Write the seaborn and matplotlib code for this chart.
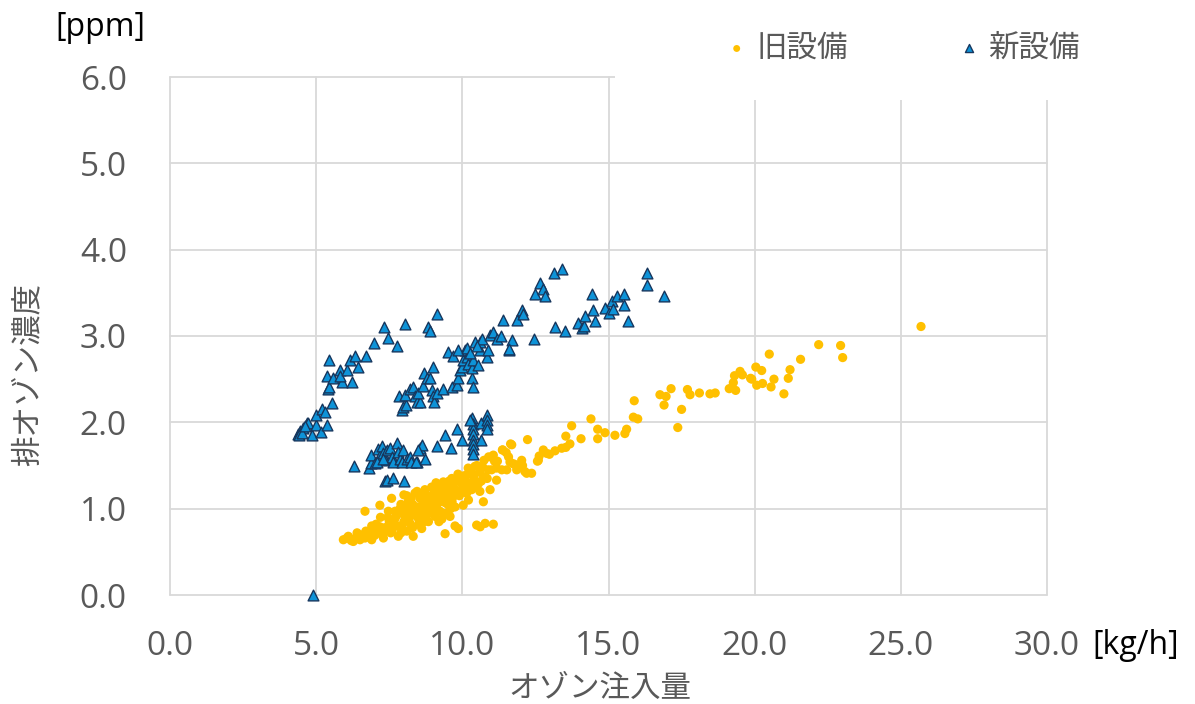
import matplotlib
matplotlib.use("Agg")
import matplotlib.pyplot as plt
from matplotlib.patches import Rectangle
import seaborn as sns
import pandas as pd

# ---------------- data ----------------
# 旧設備 (old equipment): (ozone injection kg/h, exhaust ozone ppm)
old_dense = [
    (5.93,0.64),(6.05,0.66),(6.10,0.68),(6.20,0.63),(6.27,0.62),(6.35,0.66),(6.44,0.68),(6.50,0.64),
    (6.61,0.70),(6.67,0.66),(6.78,0.71),(6.85,0.67),(6.96,0.73),(7.00,0.69),(7.10,0.75),(7.18,0.79),
    (7.25,0.70),(7.30,0.73),(7.40,0.77),(7.53,0.83),(7.60,0.75),(7.70,0.89),(7.81,0.68),(7.93,0.79),
    (8.04,0.91),(8.10,0.74),(8.21,0.83),(8.32,0.68),(8.49,0.89),(8.61,0.77),(8.84,0.85),(9.07,0.91),
    (9.41,0.71),(9.58,0.91),(9.86,0.77),(9.75,0.80),
    (6.67,0.97),(7.18,1.04),(7.47,0.97),(7.58,1.12),(7.87,1.00),(8.00,1.16),(8.15,0.98),(8.38,1.18),
    (8.44,1.02),(8.55,1.12),(8.67,0.95),(8.72,1.22),(8.78,1.08),(8.89,1.00),(8.95,1.25),(9.01,1.16),
    (9.12,1.04),(9.18,1.25),(9.24,0.97),(9.30,1.18),(9.35,1.31),(9.41,1.07),(9.52,1.22),(9.64,1.35),
    (9.69,1.14),(9.75,1.02),(9.81,1.33),(9.92,1.37),(9.98,1.22),(10.03,1.04),(10.09,1.33),(10.15,1.39),
    (10.21,1.10),(10.26,1.43),(10.32,1.22),(10.43,1.49),(10.55,1.29),(10.72,1.08),(10.78,1.37),
    (10.74,1.56),(10.89,1.45),(10.95,1.22),
    (8.30,1.05),(8.60,1.00),(8.90,1.12),(9.20,1.12),(9.50,1.05),(9.00,0.95),(8.20,0.90),(8.00,0.85),
    (7.80,0.80),(7.50,0.85),(7.35,0.78),(8.50,0.82),(8.80,0.93),(9.30,0.88),(9.60,1.00),(9.90,1.15),
    (10.10,1.25),(10.40,1.35),(10.60,1.42),(10.00,1.28),(9.70,1.25),(9.40,1.15),(9.10,1.30),(8.60,1.15),
    (8.25,1.12),(7.90,1.05),(7.70,0.97),(8.10,1.15),(8.45,1.20),(10.20,1.47),(10.50,1.50),(10.90,1.60),
    (11.20,1.55),(11.50,1.65),(10.30,1.30),(9.85,1.40),(9.55,1.32),(10.60,1.20),(7.20,0.90),(6.90,0.80),
    (8.40,0.95),(9.00,1.05),(9.45,0.95),
    (6.40,0.72),(6.70,0.74),(7.05,0.82),(7.45,0.90),(7.65,0.85),(7.75,0.92),(7.95,0.95),(8.05,1.02),
    (8.15,1.08),(8.35,0.98),(8.55,0.92),(8.65,1.08),(8.75,0.98),(8.85,1.15),(8.95,1.08),(9.05,1.20),
    (9.15,0.98),(9.25,1.08),(9.35,1.22),(9.45,1.28),(9.55,1.15),(9.65,1.08),(9.80,1.20),(9.95,1.30),
    (10.05,1.38),(10.15,1.18),(10.35,1.40),(10.45,1.25),(10.65,1.32),(10.70,1.48),(10.85,1.35),
    (11.00,1.45),(11.10,1.55),(8.30,0.78),(8.70,0.85),(9.20,0.85),(7.55,0.72),(7.90,0.72),(6.90,0.64),
    (7.30,0.66),
]
old_stray = [(10.49,0.81),(10.61,0.79),(10.78,0.83),(11.06,0.82)]
old_upper = [
    (11.06,1.62),(11.17,1.47),(11.35,1.45),(11.37,1.68),(11.58,1.60),(11.63,1.54),(11.69,1.74),
    (11.80,1.51),(11.86,1.45),(12.03,1.56),(12.14,1.43),(12.23,1.80),(12.37,1.41),(12.60,1.56),
    (12.77,1.68),(12.89,1.64),(11.65,1.75),(11.38,1.68),(11.75,1.52),(12.20,1.41),(11.17,1.33),
    (11.52,1.45),(12.06,1.50),(12.57,1.55),(12.63,1.61),(12.98,1.63),(13.17,1.67),(13.40,1.70),
    (13.54,1.71),(13.68,1.75),(13.54,1.84),(14.06,1.81),(13.74,1.96),(14.40,2.04),(14.63,1.92),
    (14.63,1.81),(14.88,1.88),(15.22,1.85),(15.56,1.87),(15.62,1.92),(15.88,2.25),(15.85,2.06),
    (16.00,2.04),(16.76,2.32),(16.97,2.30),(16.90,2.20),(17.14,2.39),(17.50,2.15),(17.37,1.94),
    (17.70,2.38),(17.79,2.32),(18.11,2.34),(18.47,2.33),(18.65,2.34),(19.13,2.39),(19.35,2.37),
    (19.27,2.46),(19.31,2.54),(19.50,2.59),(19.58,2.55),(19.86,2.51),(19.90,2.50),(20.04,2.64),
    (20.24,2.60),(20.27,2.45),(20.07,2.43),(20.56,2.41),(20.66,2.50),(20.50,2.79),(21.00,2.33),
    (21.15,2.51),(21.21,2.61),(21.57,2.73),(22.19,2.90),(22.94,2.89),(23.01,2.75),(25.69,3.11),
]

# 新設備 (new equipment)
new_left = [
    (4.37,1.87),(4.45,1.90),(4.56,1.93),(4.68,1.99),(4.73,1.99),(4.87,1.85),(4.98,1.97),(4.98,2.08),
    (5.17,1.89),(5.19,2.16),(5.29,2.12),(5.36,1.97),(5.53,2.22),(5.45,2.72),(5.36,2.54),(5.42,2.39),
    (5.44,2.41),(5.59,2.51),(5.82,2.61),(5.87,2.47),(5.82,2.54),(6.04,2.61),(6.16,2.72),(6.21,2.47),
    (6.33,2.77),(6.42,2.64),(6.69,2.77),(6.98,2.92),(7.32,3.10),(7.47,2.98),(7.78,2.88),(8.04,3.14),
    (8.81,3.10),(8.89,3.06),(9.14,3.26),(4.40,1.85),(4.50,1.88),(4.62,1.96),
]
new_mid = [
    (7.83,2.30),(7.93,2.14),(7.98,2.18),(8.07,2.20),(8.04,2.32),(8.21,2.39),(8.32,2.41),(8.38,2.30),
    (8.44,2.24),(8.55,2.24),(8.49,2.34),(8.64,2.42),(8.69,2.57),(8.78,2.51),(8.89,2.51),(9.01,2.64),
    (8.95,2.37),(9.01,2.30),(9.03,2.23),(9.12,2.34),(9.35,2.39),(9.64,2.41),(9.81,2.43),(9.86,2.51),
    (9.92,2.61),(9.98,2.64),(10.03,2.72),(10.09,2.84),(10.15,2.76),(10.21,2.68),(10.32,2.51),
    (10.35,2.41),(10.32,2.63),(10.38,2.72),(10.43,2.93),(10.55,2.66),(10.61,2.84),(10.61,2.93),
    (10.66,2.97),(10.83,2.76),(10.89,2.84),(10.95,3.01),(11.06,3.05),(11.17,2.97),(9.52,2.82),
    (9.69,2.77),(9.86,2.84),(10.15,2.86),(11.31,3.00),(11.58,2.84),(11.69,2.95),(11.40,3.19),
    (11.86,3.19),(12.03,3.30),(12.45,2.97),(12.06,3.26),(11.60,2.85),(10.25,2.80),(10.50,2.88),
]
new_upper = [
    (13.14,3.73),(13.41,3.78),(12.66,3.61),(12.49,3.49),(12.77,3.54),(12.83,3.46),(13.17,3.10),
    (13.52,3.06),(14.44,3.49),(14.48,3.30),(14.55,3.17),(13.97,3.15),(14.08,3.09),(14.15,3.12),
    (14.20,3.23),(14.88,3.33),(15.00,3.27),(15.13,3.40),(15.14,3.31),(15.28,3.46),(15.54,3.49),
    (15.54,3.36),(15.66,3.17),(16.33,3.73),(16.33,3.59),(16.90,3.46),
]
new_low = [
    (6.31,1.49),(6.81,1.47),(6.88,1.53),(6.88,1.62),(7.01,1.53),(7.13,1.69),(7.18,1.62),(7.24,1.73),
    (7.30,1.64),(7.36,1.56),(7.41,1.68),(7.53,1.70),(7.58,1.60),(7.64,1.54),(7.78,1.76),(7.81,1.66),
    (7.87,1.58),(7.98,1.68),(7.93,1.54),(8.10,1.57),(8.21,1.60),(8.26,1.54),(8.44,1.54),(8.55,1.70),
    (8.61,1.74),(8.72,1.58),(9.12,1.73),(9.41,1.85),(9.61,1.70),(9.83,1.92),(10.00,1.79),(10.34,2.05),
    (10.35,1.98),(10.35,1.92),(10.35,1.86),(10.35,1.80),(10.35,1.75),(10.35,1.69),(10.35,1.63),
    (10.64,1.99),(10.64,1.80),(10.83,2.08),(10.86,2.03),(10.86,1.97),(10.86,1.92),(10.26,2.03),
    (7.36,1.32),(7.44,1.33),(7.62,1.35),(8.00,1.32),(7.07,1.54),(7.30,1.58),(8.42,1.54),(8.49,1.68),
]
new_zero = [(4.90,0.00)]

x_ticks = [0, 5, 10, 15, 20, 25, 30]
x_tick_labels = ["0.0", "5.0", "10.0", "15.0", "20.0", "25.0", "30.0"]
y_ticks = [0, 1, 2, 3, 4, 5, 6]
y_tick_labels = ["0.0", "1.0", "2.0", "3.0", "4.0", "5.0", "6.0"]
series_names = ["旧設備", "新設備"]

old_pts = old_dense + old_stray + old_upper
new_pts = new_left + new_mid + new_upper + new_low + new_zero
df_old = pd.DataFrame(old_pts, columns=["x", "y"])
df_new = pd.DataFrame(new_pts, columns=["x", "y"])

# ---------------- style ----------------
sns.set_theme(style="white")
plt.rcParams["font.family"] = ["Open Sans", "Noto Sans CJK JP", "DejaVu Sans"]
JP = ["Noto Sans CJK JP", "DejaVu Sans"]
GRAY = "#595959"

W, H = 1195, 704
fig = plt.figure(figsize=(W / 100, H / 100), dpi=100)
fig.patch.set_facecolor("white")
L, R, T, B = 170, 1047, 77, 595
ax = fig.add_axes([L / W, 1 - B / H, (R - L) / W, (B - T) / H])
ax.set_facecolor("white")

sns.scatterplot(data=df_old, x="x", y="y", ax=ax, color="#FFC000", s=44,
                edgecolor="none", marker="o", label=series_names[0], zorder=3)
sns.scatterplot(data=df_new, x="x", y="y", ax=ax, color="#0E93D8", s=60,
                edgecolor="#17375E", linewidth=1.0, marker="^",
                label=series_names[1], zorder=4)
for coll in ax.collections:
    coll.set_clip_on(False)

ax.set_xlim(0, 30)
ax.set_ylim(0, 6)
ax.set_xticks(x_ticks)
ax.set_xticklabels(x_tick_labels)
ax.set_yticks(y_ticks)
ax.set_yticklabels(y_tick_labels)
ax.grid(True, color="#D9D9D9", linewidth=1.3, zorder=0)
ax.set_axisbelow(True)
for sp in ax.spines.values():
    sp.set_visible(False)
ax.tick_params(axis="both", length=0, labelsize=24, labelcolor=GRAY)
ax.tick_params(axis="x", pad=25)
ax.tick_params(axis="y", pad=31)
ax.set_xlabel("")
ax.set_ylabel("")
for g in ax.get_xgridlines() + ax.get_ygridlines():
    g.set_clip_on(False)

handles, labels = ax.get_legend_handles_labels()
ax.get_legend().remove()

# white legend area covering the top-right of the plot
fig.patches.append(Rectangle((615 / W, 1 - 100 / H), 1 - 615 / W, 100 / H,
                             transform=fig.transFigure, facecolor="white",
                             edgecolor="none", zorder=1))
leg = fig.legend(handles, labels, loc="center left",
                 bbox_to_anchor=(726 / W, 1 - 48 / H), ncol=2, frameon=False,
                 borderpad=0, borderaxespad=0, handlelength=0.7,
                 handletextpad=0.3, columnspacing=3.6, markerscale=0.75,
                 prop={"family": JP, "size": 22})
for t in leg.get_texts():
    t.set_color(GRAY)

# axis titles and units
fig.text(27.5 / W, 1 - 375 / H, "排オゾン濃度", rotation=90, ha="center",
         va="center", color=GRAY, fontsize=22, family=JP)
fig.text(600 / W, 1 - 688 / H, "オゾン注入量", ha="center", va="center",
         color=GRAY, fontsize=22, family=JP)
fig.text(100 / W, 1 - 28 / H, "[ppm]", ha="center", va="center",
         color="#000000", fontsize=23)
fig.text(1136 / W, 1 - 645 / H, "[kg/h]", ha="center", va="center",
         color="#000000", fontsize=23)

fig.savefig("out.png", dpi=100, facecolor="white")
